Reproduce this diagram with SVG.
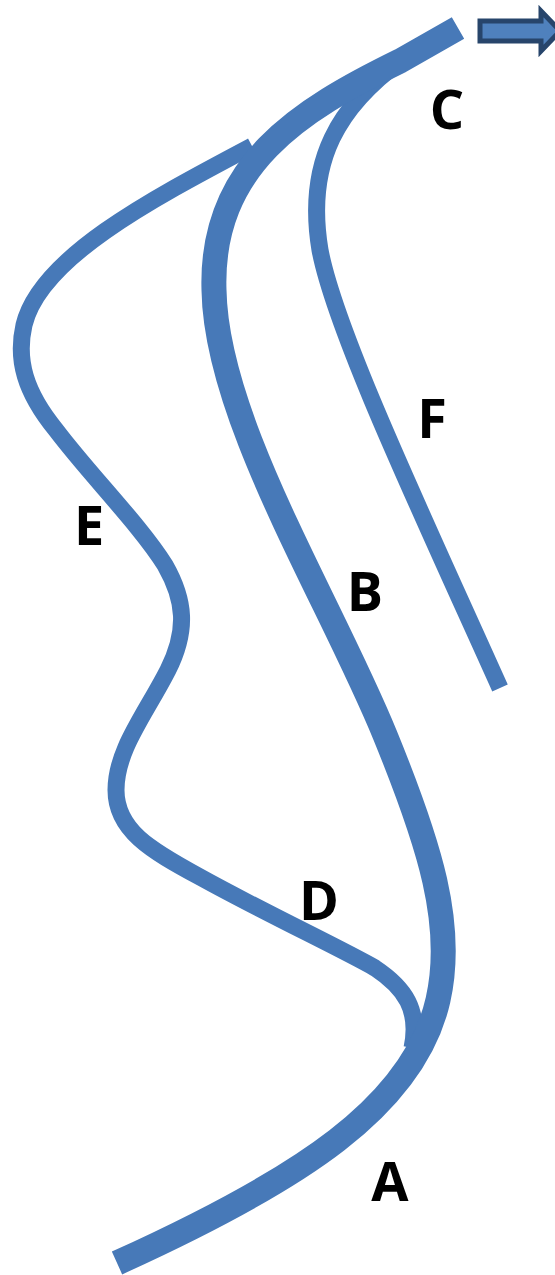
<svg xmlns="http://www.w3.org/2000/svg" width="555" height="1275" viewBox="0 0 555 1275">
<style>
.ln{fill:none;stroke:#4779b8;stroke-linecap:butt;stroke-linejoin:miter}
.thick{stroke-width:25}
.thin{stroke-width:17}
.lbl{font-family:"Open Sans","Liberation Sans",sans-serif;font-weight:bold;font-size:54px;fill:#000;text-anchor:middle}
</style>
<rect width="555" height="1275" fill="#fff"/>
<g id="connectors">
<path id="pathF" class="ln thin" d="M402,60 C340,105 305,160 320,250 C335,330 420,510 500,688"/>
<path id="pathDE" class="ln thin" d="M252,146 C150,200 40,258 24,325 C16,360 25,392 56,430 C90,475 140,525 165,565 C185,600 188,630 168,670 C145,715 116,750 116,790 C116,830 150,850 200,877 C265,913 340,948 375,968 C405,988 420,1010 412,1048"/>
<path id="pathA-B-C" class="ln thick" d="M458,28 L400,61 C300,110 210,165 214,290 C216,420 330,600 385,735 C430,845 455,925 438,1000 C414,1106 300,1180 117,1263"/>
</g>
<g id="arrow">
<path d="M480,21 L541,21 L541,11 L560,31 L541,51 L541,41 L480,41 Z" fill="#4f81bd" stroke="#27456b" stroke-width="5" stroke-linejoin="miter"/>
</g>
<g id="label-C"><text class="lbl" x="447" y="129">C</text></g>
<g id="label-F"><text class="lbl" x="432" y="438">F</text></g>
<g id="label-E"><text class="lbl" x="89" y="545">E</text></g>
<g id="label-B"><text class="lbl" x="365" y="611">B</text></g>
<g id="label-D"><text class="lbl" x="319" y="920">D</text></g>
<g id="label-A"><text class="lbl" x="390" y="1201">A</text></g>
</svg>
